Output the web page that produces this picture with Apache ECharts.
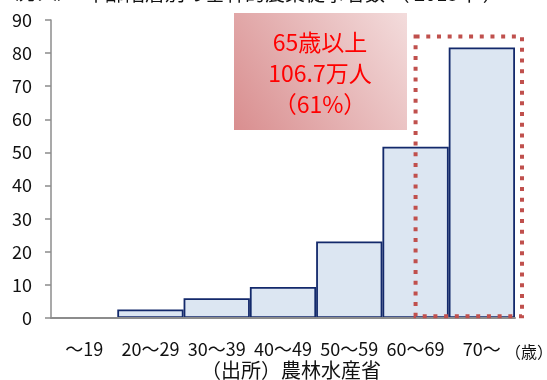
<!DOCTYPE html>
<html>
<head>
<meta charset="utf-8">
<script src="https://cdn.jsdelivr.net/npm/echarts@6/dist/echarts.min.js"></script>
<style>
  html, body { margin: 0; padding: 0; background: #fff; }
  #chart { width: 547px; height: 380px; }
</style>
</head>
<body>
<div id="chart"></div>
<script>
// 年齢階層別の基幹的農業従事者数（万人）
const ageGroups = ['～19', '20～29', '30～39', '40～49', '50～59', '60～69', '70～']
const workers = [0, 2.6, 6.0, 9.4, 23.1, 51.7, 81.7]
const yTicks = [0, 10, 20, 30, 40, 50, 60, 70, 80, 90]

const FONT = '"Noto Sans CJK JP", "Noto Sans", sans-serif'

const chart = echarts.init(document.getElementById('chart'))

const option = {
  animation: false,
  backgroundColor: '#fff',
  textStyle: { fontFamily: FONT },
  grid: { left: 51, right: 32, top: 20, bottom: 62 },
  xAxis: {
    type: 'category',
    data: ageGroups,
    z: 5,
    axisLine: { lineStyle: { color: '#8c8c8c', width: 2 } },
    axisTick: { length: 6, lineStyle: { color: '#8c8c8c', width: 1.5 } },
    axisLabel: { color: '#111', fontSize: 18, margin: 22, interval: 0, fontFamily: FONT }
  },
  yAxis: {
    type: 'value',
    min: yTicks[0],
    max: yTicks[yTicks.length - 1],
    interval: 10,
    splitLine: { show: false },
    axisLine: { show: true, lineStyle: { color: '#8c8c8c', width: 1.5 } },
    axisTick: { show: true, length: 6, lineStyle: { color: '#8c8c8c', width: 1.5 } },
    axisLabel: { color: '#111', fontSize: 18, margin: 19, fontFamily: FONT }
  },
  series: [
    {
      type: 'bar',
      data: workers,
      barCategoryGap: '0%',
      itemStyle: {
        color: '#dce6f2',
        borderColor: '#13296b',
        borderWidth: 1.8
      }
    }
  ]
}

chart.setOption(option)

// dotted frame round the 65+ range, placed through the chart's own scales
const left = chart.convertToPixel({ seriesIndex: 0 }, ['60～69', 85])
const right = chart.convertToPixel({ seriesIndex: 0 }, ['70～', 0.5])
const band = right[0] - left[0]

chart.setOption({
  graphic: [
    {
      type: 'text',
      left: 0,
      top: -17,
      style: {
        text: '（万人）',
        fontSize: 19,
        fill: '#111',
        fontFamily: FONT
      }
    },
    {
      type: 'text',
      left: 85,
      top: -17,
      style: {
        text: '年齢階層別の基幹的農業従事者数 （ 2015年 ）',
        fontSize: 20,
        fill: '#111',
        fontFamily: FONT
      }
    },
    {
      type: 'rect',
      shape: { x: 234, y: 13, width: 173, height: 117 },
      style: {
        fill: new echarts.graphic.LinearGradient(0, 1, 1, 0, [
          { offset: 0, color: '#d98e8f' },
          { offset: 1, color: '#f3dcdc' }
        ])
      },
      z: 10
    },
    {
      type: 'text',
      x: 320,
      y: 73,
      style: {
        text: '65歳以上\n106.7万人\n（61%）',
        fontSize: 23,
        lineHeight: 31,
        fill: '#ff0000',
        align: 'center',
        verticalAlign: 'middle',
        fontFamily: FONT
      },
      z: 11
    },
    {
      type: 'rect',
      shape: {
        x: left[0],
        y: left[1],
        width: band + band / 2 + 7,
        height: right[1] - left[1]
      },
      style: {
        fill: 'none',
        stroke: '#c0504d',
        lineWidth: 4,
        lineDash: [4, 6.7]
      },
      z: 12
    },
    {
      type: 'text',
      x: 529,
      y: 352,
      style: {
        text: '（歳）',
        fontSize: 16,
        fill: '#111',
        align: 'center',
        verticalAlign: 'middle',
        fontFamily: FONT
      }
    },
    {
      type: 'text',
      x: 291,
      y: 370,
      style: {
        text: '（出所）農林水産省',
        fontSize: 20,
        fill: '#111',
        align: 'center',
        verticalAlign: 'middle',
        fontFamily: FONT
      }
    }
  ]
})
</script>
</body>
</html>
